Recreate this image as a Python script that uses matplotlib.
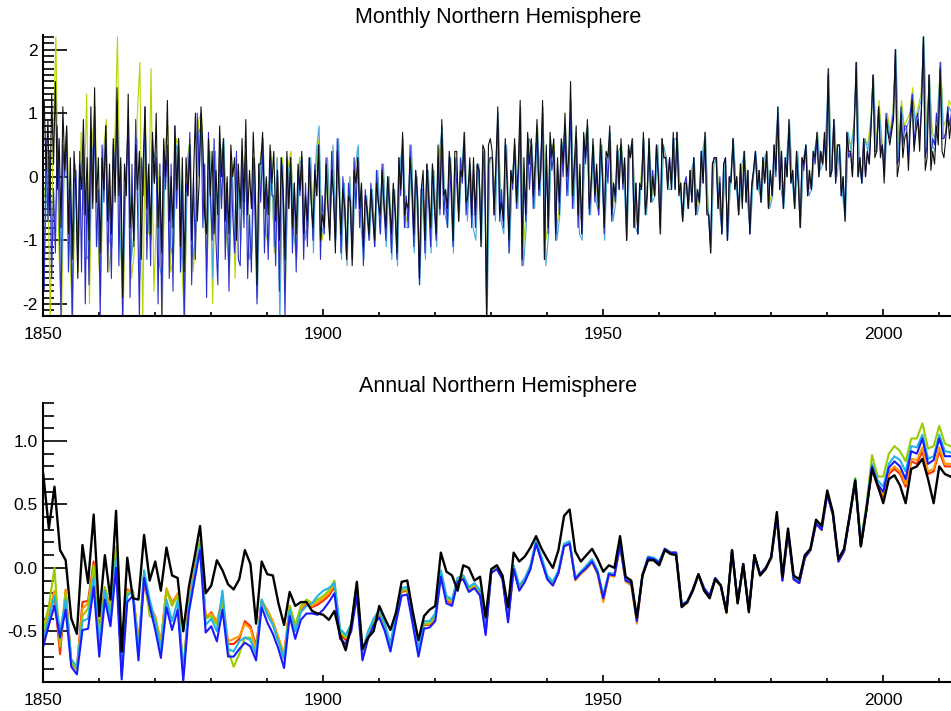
import numpy as np
import matplotlib
matplotlib.use("Agg")
from matplotlib import pyplot as plt
from matplotlib.ticker import MultipleLocator, FormatStrFormatter

plt.rcParams['font.family'] = ['Liberation Sans', 'DejaVu Sans']
plt.rcParams['axes.unicode_minus'] = False

START_YEAR = 1850

monthly_black = [  # 3 values per year
    1.2, 0.1, 0.9, -0.6, 1.3, 0.2, 1.5, -0.2, 0.6, -0.8, 1.1, 0.1, 0.8, -0.9, 0.3, -1.3, 0.4, -0.3, -1.6, 0.2, -0.2, 0.9, -0.6, 0.3, -1.0, 1.1, -0.5, 1.4, -0.4, 0.3,
    -1.2, 0.3, -0.2, 0.8, -0.7, 0.2, -0.9, 0.6, -0.4, 1.4, -0.3, 0.3, -1.9, 0.2, -0.3, 1.3, -0.8, -0.3, -1.0, 0.5, -0.2, 0.4, -1.3, 0.2, 1.1, -0.5, 0.2, -0.9, 0.7, -0.1,
    1.0, -0.8, 0.0, -1.2, 0.6, 0.0, 1.2, -0.7, 0.0, -0.8, 0.8, -0.2, 0.6, -1.1, 0.3, -1.5, 0.3, -0.3, 0.5, -1.0, 0.0, 1.0, -0.7, -0.1, 1.1, 0.5, -0.6, -0.9, 0.6, -0.3,
    0.4, -0.9, 0.1, -0.6, 0.8, 0.0, 0.6, -0.7, 0.0, -0.9, 0.5, 0.0, 0.3, -1.0, 0.2, -0.5, 0.6, -0.4, 0.9, -0.6, 0.1, -0.5, 0.7, -0.1, -1.7, 0.2, 0.2, 0.7, -0.5, 0.0,
    -0.6, 0.5, -0.1, 0.4, -0.7, 0.1, -1.0, 0.3, -0.2, -1.3, 0.4, -0.5, 0.3, -0.8, -0.1, -0.9, 0.2, -0.2, 0.4, -0.9, -0.3, -0.7, 0.3, -0.4, -0.8, 0.1, -0.3, 0.5, -1.0, -0.6,
    -0.8, 0.2, -0.5, -1.0, 0.1, -0.3, -1.2, 0.4, -0.2, -0.9, -0.2, -0.5, -1.3, -0.3, -0.4, -1.4, 0.1, -0.1, 0.3, -0.5, -0.1, -1.1, -0.3, -0.5, -0.9, -0.2, -0.6, -1.0, -0.1, -0.4,
    -0.6, 0.1, -0.4, -0.8, 0.0, -0.4, -0.9, -0.1, -0.5, -1.2, 0.3, -0.2, 0.7, -0.6, -0.4, -0.5, 0.3, -0.1, -0.9, 0.1, -0.3, -1.6, -0.2, 0.1, -1.0, 0.2, -0.3, -0.8, 0.2, -0.4,
    -0.9, 0.5, -0.5, 0.9, -0.3, -0.2, -0.5, 0.4, 0.0, -1.0, 0.4, 0.4, -0.7, 0.1, 0.0, 0.7, -0.4, -0.3, 0.3, -0.6, 0.3, -0.6, 0.2, 0.1, -1.1, 0.5, 0.4, -2.3, 0.5, 0.6,
    0.4, -0.6, 0.2, 1.1, -0.6, -0.4, -0.7, 0.6, -0.1, -1.0, 0.1, -0.1, 0.6, -0.4, 0.2, 1.2, -1.3, 0.3, -0.6, 0.7, 0.2, 0.6, -0.3, 0.2, 0.9, -0.2, 0.1, 1.2, -1.3, 0.5,
    -0.8, 0.7, 0.3, 0.6, -0.9, 0.3, -0.4, 0.6, 0.2, 1.0, 0.0, 0.3, 1.5, -0.3, 0.2, 0.8, -0.6, 0.2, -0.9, 0.7, 0.3, 0.9, -0.5, -0.1, 0.6, -0.3, 0.2, -0.5, 0.6, 0.1,
    -0.8, 0.4, 0.3, 0.8, -0.6, -0.1, -0.3, 0.5, -0.2, 0.6, -0.1, 0.3, -1.0, 0.5, 0.3, 0.6, -0.8, -0.1, -0.9, -0.1, -0.2, 0.7, -0.6, -0.3, 0.6, -0.4, 0.0, -0.3, 0.5, 0.0,
    -0.9, 0.6, 0.3, 0.3, -0.2, 0.3, -0.2, 0.7, -0.2, 0.7, -0.3, -0.1, -0.7, -0.1, -0.1, -0.5, 0.1, -0.4, 0.3, -0.6, -0.2, -0.4, 0.4, -0.1, 0.7, -0.6, -0.6, -1.2, 0.2, 0.3,
    0.3, -0.5, -0.1, -0.9, 0.2, 0.3, -1.0, 0.0, -0.1, 0.6, -0.2, 0.0, -0.6, 0.2, -0.5, 0.4, -0.4, 0.1, -0.9, -0.2, 0.1, 0.4, -0.2, 0.1, -0.4, 0.3, -0.1, 0.4, -0.5, 0.1,
    -0.3, 0.5, 0.1, 1.1, -0.2, 0.4, -0.5, 0.3, 0.0, 0.9, -0.1, 0.1, -0.5, 0.4, -0.1, -0.8, 0.3, 0.2, 0.5, -0.3, 0.1, -0.2, 0.4, 0.3, 0.7, 0.0, 0.4, 0.2, 0.7, 0.1,
    1.7, 0.0, 0.1, 0.9, -0.1, 0.5, 0.5, -0.3, 0.0, -0.7, 0.7, 0.4, 0.4, 0.0, 0.8, 1.8, 0.0, 0.3, -0.1, 0.6, 0.0, 0.4, 0.2, 0.8, 1.6, 0.3, 0.4, 1.1, 0.3, 0.5,
    -0.1, 0.9, 0.7, 0.5, 0.7, 0.9, 2.0, 0.0, 0.2, 1.0, 0.3, 0.6, 0.7, 0.1, 0.8, 1.2, 0.4, 0.7, 0.9, 0.4, 1.1, 2.2, 0.1, 0.3, 1.6, 0.1, 0.4, 0.2, 0.8, 0.5,
    1.7, 0.4, 0.3, 0.6, 1.0, 0.6, 0.9, 0.5, 0.8,
]

monthly_blue = [  # 3 values per year
    -1.8, 0.6, -0.7, 0.4, -1.6, -0.2, -1.2, 0.8, -0.5, -2.2, 0.5, 0.0, 0.7, -1.5, -0.2, -2.3, -0.1, 0.1, -1.4, 0.4, -1.5, 0.6, -2.0, -0.1, -1.7, 0.7, -0.4, 0.9, -1.1, -0.2,
    -2.2, 0.5, -0.4, 0.8, -1.5, -0.1, -1.6, 0.5, -0.3, 1.2, -1.4, 0.2, -2.3, -0.4, 0.1, 0.9, -1.9, 0.2, -1.1, 0.9, -0.5, -2.2, 0.3, -0.3, 1.1, -1.3, 0.0, -1.4, 0.6, -0.1,
    0.3, -2.0, 0.2, -2.3, 0.4, -0.2, 0.5, -1.6, 0.2, -1.8, 0.8, -0.5, 0.6, -1.5, -0.1, -2.3, -0.1, -0.3, 0.7, -1.7, 0.0, -1.3, 1.0, 0.0, 1.0, -0.8, 0.2, -1.9, 0.7, -0.3,
    -1.0, 0.6, -1.0, -1.7, 0.5, -0.5, 0.4, -1.3, -0.1, -1.8, 0.3, -0.6, -1.2, 0.4, -1.3, -1.4, 0.3, -0.8, 0.4, -1.6, -0.6, -1.5, 0.3, -0.7, -2.0, 0.2, -0.4, 0.5, -1.2, -0.2,
    -1.3, 0.3, -0.3, -0.3, -1.4, 0.1, -1.8, 0.3, -0.4, -2.2, 0.3, -0.5, 0.2, -1.2, -0.1, -1.5, 0.1, -0.3, 0.2, -1.3, -0.1, -1.1, 0.3, -0.3, -1.0, 0.2, -0.3, 0.5, -1.3, -0.3,
    -0.9, 0.3, -0.4, -0.9, 0.4, -0.3, -1.0, 0.6, -0.2, -1.2, 0.0, -0.5, -1.3, -0.1, -0.4, -1.3, 0.3, -0.5, 0.3, -0.8, -0.2, -1.4, -0.2, -0.6, -1.0, -0.1, -0.6, -1.1, 0.1, -0.4,
    -0.9, 0.2, -0.5, -1.0, 0.0, -0.5, -1.2, -0.2, -0.6, -1.3, 0.3, -0.3, 0.4, -0.8, -0.3, -0.8, 0.5, -0.3, -1.1, 0.1, -0.4, -1.7, -0.2, -0.2, -1.2, 0.2, -0.4, -1.1, 0.2, -0.5,
    -1.0, 0.3, -0.6, 0.6, -0.6, -0.2, -0.8, 0.3, -0.3, -1.1, 0.3, -0.1, -0.6, 0.3, -0.1, 0.5, -0.6, -0.2, 0.1, -0.8, 0.1, -0.8, 0.2, 0.1, -1.0, 0.4, -0.1, -2.1, 0.2, 0.3,
    0.3, -0.6, 0.2, 0.9, -0.7, -0.2, -0.8, 0.5, 0.0, -1.2, 0.1, -0.2, 0.5, -0.5, 0.0, 0.9, -1.4, 0.0, -0.7, 0.6, -0.2, 0.4, -0.5, 0.1, 0.7, -0.3, 0.2, 1.0, -1.3, 0.4,
    -0.9, 0.5, 0.1, 0.4, -1.0, 0.2, -0.6, 0.5, 0.0, 0.7, -0.3, 0.1, 1.0, -0.5, 0.1, 0.5, -0.8, 0.0, -0.9, 0.6, 0.2, 0.7, -0.6, -0.1, 0.5, -0.4, 0.1, -0.6, 0.5, 0.0,
    -0.9, 0.3, -0.1, 0.6, -0.7, -0.1, -0.4, 0.4, -0.2, 0.5, -0.2, 0.2, -1.0, 0.4, 0.3, 0.5, -0.8, -0.1, -0.9, -0.2, -0.2, 0.6, -0.5, -0.3, 0.6, -0.4, 0.1, -0.3, 0.5, 0.0,
    -0.8, 0.6, 0.3, 0.3, -0.1, 0.3, -0.1, 0.6, -0.2, 0.7, -0.2, -0.1, -0.7, -0.1, 0.0, -0.5, 0.1, -0.4, 0.3, -0.6, -0.2, -0.4, 0.4, -0.1, 0.6, -0.5, -0.6, -1.1, 0.2, 0.3,
    0.3, -0.5, 0.0, -0.9, 0.2, 0.3, -1.0, 0.0, 0.0, 0.6, -0.2, 0.0, -0.6, 0.2, -0.4, 0.4, -0.4, 0.1, -0.9, -0.1, 0.1, 0.4, -0.2, 0.1, -0.4, 0.3, -0.1, 0.4, -0.5, 0.1,
    -0.3, 0.5, 0.0, 1.0, -0.2, 0.4, -0.5, 0.3, 0.0, 0.8, -0.1, 0.1, -0.5, 0.3, -0.1, -0.8, 0.3, 0.1, 0.5, -0.3, 0.0, -0.2, 0.4, 0.2, 0.6, 0.0, 0.4, 0.2, 0.6, 0.1,
    1.6, 0.0, 0.1, 0.9, -0.1, 0.5, 0.5, -0.3, 0.0, -0.6, 0.7, 0.3, 0.4, 0.0, 0.8, 1.8, 0.0, 0.3, -0.1, 0.6, 0.0, 0.4, 0.2, 0.8, 1.6, 0.4, 0.4, 1.1, 0.4, 0.5,
    0.1, 1.0, 0.7, 0.6, 0.8, 1.0, 2.0, 0.2, 0.3, 1.1, 0.5, 0.8, 0.8, 0.3, 1.0, 1.3, 0.5, 0.9, 1.0, 0.6, 1.1, 2.2, 0.3, 0.5, 1.6, 0.3, 0.6, 0.5, 1.0, 0.7,
    1.8, 0.6, 0.6, 0.7, 1.1, 0.8, 1.0, 0.7, 0.9,
]

monthly_green = [  # 2 values per year
    -0.3, 0.4, -2.3, 0.5, 2.2, -1.0, -2.3, 0.3, 0.8, -1.2, -2.3, 0.2, -1.5, 0.7, -0.6, 1.3, -2.0, 0.6, 1.1, -1.0,
    -1.9, 0.4, 0.9, -1.5, -1.0, 0.5, 2.2, -0.8, -2.3, 0.1, 0.8, -1.6, -1.2, 0.9, 1.8, -2.3, 0.9, -0.9, 1.7, -1.8,
    -0.6, 0.2, -2.3, 0.5, 0.8, -1.5, -1.3, 0.6, 0.5, -1.4, -2.3, 0.3, 0.6, -1.5, -1.0, 0.9, 1.0, -0.4, -1.5, 0.4,
    -2.0, 0.3, -1.1, 0.4, 0.5, -1.0, -1.5, 0.2, -1.6, 0.1, -1.0, 0.2, 0.4, -1.3, -1.2, 0.3, -1.7, 0.3, 0.6, -0.9,
    -1.1, 0.4, -1.2, 0.3, -1.5, 0.3, -1.8, 0.2, 0.4, -0.9, -1.2, 0.3, 0.3, -0.9, -0.8, 0.3, -0.9, 0.3, 0.6, -1.0,
    -0.8, 0.2, -0.7, 0.4, -0.8, 0.5, -1.1, -0.1, -1.2, 0.0, -1.1, 0.2, 0.4, -0.6, -1.2, -0.3, -0.9, -0.2, -0.9, 0.0,
    -0.7, 0.1, -0.9, 0.0, -1.1, -0.2, -1.1, 0.2, 0.5, -0.7, -0.6, 0.4, -1.0, 0.0, -1.5, -0.1, -1.0, 0.1, -0.9, 0.1,
    -0.9, 0.2, 0.7, -0.5, -0.6, 0.3, -0.9, 0.3, -0.5, 0.2, 0.5, -0.5, 0.2, -0.6, -0.6, 0.2, -0.8, 0.4, -1.6, 0.3,
    0.3, -0.4, 0.9, -0.5, -0.6, 0.4, -1.0, 0.0, 0.5, -0.3, 1.0, -1.1, -0.5, 0.6, 0.5, -0.2, 0.8, -0.1, 1.0, -1.0,
    -0.7, 0.5, 0.5, -0.8, -0.4, 0.5, 0.8, 0.0, 1.1, -0.3, 0.6, -0.6, -0.7, 0.6, 0.8, -0.4, 0.5, -0.2, -0.4, 0.5,
    -0.7, 0.3, 0.6, -0.5, -0.2, 0.4, 0.5, 0.0, -0.8, 0.4, 0.5, -0.6, -0.8, 0.0, 0.6, -0.5, 0.5, -0.3, -0.2, 0.4,
    -0.7, 0.5, 0.3, 0.0, -0.1, 0.6, 0.6, -0.2, -0.6, 0.0, -0.4, 0.0, 0.2, -0.5, -0.3, 0.3, 0.6, -0.5, -1.0, 0.2,
    0.3, -0.4, -0.8, 0.2, -0.9, 0.0, 0.5, -0.1, -0.5, 0.1, 0.3, -0.3, -0.8, 0.0, 0.3, -0.1, -0.3, 0.2, 0.3, -0.4,
    -0.2, 0.4, 1.0, 0.0, -0.4, 0.2, 0.8, 0.0, -0.4, 0.3, -0.7, 0.2, 0.4, -0.2, -0.1, 0.4, 0.7, 0.2, 0.3, 0.6,
    1.6, 0.1, 0.9, 0.2, 0.4, -0.2, -0.5, 0.6, 0.5, 0.8, 1.7, 0.2, 0.0, 0.6, 0.5, 0.9, 1.6, 0.5, 1.2, 0.6,
    0.2, 1.0, 0.7, 1.1, 2.0, 0.5, 1.2, 0.8, 0.9, 1.0, 1.4, 0.9, 1.1, 1.3, 2.2, 0.6, 1.6, 0.7, 0.6, 1.1,
    1.8, 0.8, 0.9, 1.2, 1.1, 1.0,
]

monthly_cyan = [  # 2 values per year
    -1.2, 0.3, -0.3, -1.0, -0.5, 0.4, -1.5, 0.2, 0.4, -1.0, -1.6, 0.0, -1.2, 0.2, 0.3, -1.3, -1.2, 0.4, 0.6, -0.8,
    -1.5, 0.2, 0.5, -1.0, -1.1, 0.3, 0.8, -1.0, -1.8, 0.0, 0.6, -1.3, -0.8, 0.6, -1.6, 0.1, 0.7, -0.8, -1.0, 0.4,
    0.2, -1.4, -1.6, 0.2, 0.3, -1.1, -1.3, 0.5, 0.4, -1.1, -1.8, 0.0, 0.5, -1.3, -0.9, 0.7, 0.8, -0.5, -1.4, 0.4,
    -1.6, 0.4, -1.3, 0.3, 0.6, -0.8, -1.4, 0.1, -1.2, -0.1, -1.1, 0.1, 0.3, -1.3, -1.1, 0.2, -1.9, 0.2, 0.6, -0.9,
    -1.0, 0.3, -1.1, 0.3, -2.3, 0.2, -1.6, 0.1, 0.3, -0.9, -1.3, 0.2, 0.3, -1.0, -0.8, 0.3, -1.2, 0.4, 0.8, -0.9,
    -0.7, 0.3, -0.6, 0.5, -1.0, 0.6, -1.3, -0.1, -1.4, 0.0, -1.3, 0.2, 0.5, -0.8, -1.3, -0.3, -1.0, -0.2, -1.1, 0.1,
    -0.9, 0.2, -1.1, 0.0, -1.3, -0.2, -1.4, 0.2, 0.6, -0.8, -0.8, 0.5, -1.2, 0.0, -1.7, -0.1, -1.3, 0.1, -1.2, 0.1,
    -1.1, 0.4, 0.8, -0.6, -0.8, 0.3, -1.2, 0.3, -0.7, 0.2, 0.7, -0.7, 0.2, -0.8, -1.0, 0.2, -1.1, 0.4, -2.3, 0.3,
    0.3, -0.7, 1.0, -0.7, -0.9, 0.5, -1.2, 0.0, 0.5, -0.5, 1.1, -1.4, -0.8, 0.6, 0.5, -0.5, 0.8, -0.3, 1.1, -1.4,
    -0.9, 0.5, 0.4, -1.0, -0.6, 0.5, 0.8, -0.3, 1.2, -0.5, 0.6, -0.9, -1.0, 0.6, 0.8, -0.6, 0.5, -0.4, -0.6, 0.5,
    -1.0, 0.3, 0.7, -0.7, -0.4, 0.4, 0.5, -0.2, -1.0, 0.4, 0.6, -0.8, -0.9, -0.1, 0.6, -0.6, 0.5, -0.4, -0.3, 0.5,
    -0.9, 0.5, 0.3, -0.2, -0.2, 0.6, 0.6, -0.3, -0.7, -0.1, -0.5, 0.1, 0.3, -0.6, -0.4, 0.4, 0.7, -0.6, -1.2, 0.2,
    0.3, -0.5, -0.9, 0.2, -1.0, 0.0, 0.6, -0.2, -0.6, 0.2, 0.4, -0.4, -0.9, -0.1, 0.4, -0.2, -0.4, 0.3, 0.4, -0.5,
    -0.3, 0.5, 1.1, -0.2, -0.5, 0.3, 0.9, -0.1, -0.5, 0.4, -0.8, 0.3, 0.5, -0.3, -0.2, 0.4, 0.7, 0.1, 0.2, 0.7,
    1.7, 0.0, 0.9, 0.0, 0.5, -0.3, -0.7, 0.7, 0.4, 0.8, 1.8, 0.1, -0.1, 0.6, 0.4, 0.8, 1.6, 0.4, 1.1, 0.5,
    0.0, 0.9, 0.6, 1.0, 2.0, 0.3, 1.1, 0.7, 0.8, 0.9, 1.3, 0.8, 1.0, 1.2, 2.2, 0.5, 1.6, 0.5, 0.4, 1.0,
    1.8, 0.6, 0.7, 1.1, 1.0, 0.9,
]

# --- annual panel, one value per year 1850-2012 ---
annual_black = [
    0.74, 0.31, 0.64, 0.14, 0.06, -0.40, -0.52, 0.18, -0.12, 0.42,
    -0.38, 0.10, -0.25, 0.45, -0.66, 0.08, -0.24, -0.25, 0.26, -0.10,
    0.05, -0.18, 0.16, -0.06, -0.08, -0.50, -0.15, 0.08, 0.33, -0.20,
    -0.14, 0.06, -0.02, -0.13, -0.17, -0.09, 0.14, 0.03, -0.44, 0.05,
    -0.05, -0.06, -0.28, -0.45, -0.19, -0.30, -0.27, -0.27, -0.34, -0.36,
    -0.37, -0.41, -0.34, -0.53, -0.65, -0.45, -0.11, -0.64, -0.55, -0.50,
    -0.30, -0.40, -0.49, -0.35, -0.11, -0.10, -0.35, -0.57, -0.38, -0.33,
    -0.30, 0.12, -0.03, -0.06, -0.18, 0.02, 0.00, -0.10, -0.07, -0.39,
    -0.01, 0.02, -0.06, -0.31, 0.12, 0.05, 0.09, 0.16, 0.25, 0.15,
    0.07, 0.00, 0.14, 0.41, 0.46, 0.13, 0.05, 0.10, 0.15, 0.07,
    -0.03, 0.02, 0.00, 0.25, -0.07, -0.10, -0.39, -0.06, 0.06, 0.06,
    0.02, 0.14, 0.11, 0.10, -0.31, -0.27, -0.18, -0.05, -0.18, -0.24,
    -0.09, -0.14, -0.35, 0.14, -0.28, 0.03, -0.35, 0.10, -0.06, -0.01,
    0.09, 0.44, -0.07, 0.31, -0.06, -0.09, 0.10, 0.15, 0.38, 0.33,
    0.61, 0.44, 0.07, 0.15, 0.41, 0.69, 0.17, 0.46, 0.78, 0.65,
    0.51, 0.70, 0.73, 0.65, 0.51, 0.78, 0.80, 0.86, 0.70, 0.51,
    0.80, 0.74, 0.72,
]

annual_blue = [
    -0.62, -0.45, -0.30, -0.55, -0.33, -0.78, -0.84, -0.49, -0.48, -0.15,
    -0.70, -0.25, -0.46, 0.00, -0.88, -0.27, -0.22, -0.73, -0.08, -0.30,
    -0.49, -0.71, -0.31, -0.49, -0.33, -0.89, -0.35, -0.10, 0.14, -0.51,
    -0.46, -0.58, -0.33, -0.70, -0.70, -0.64, -0.59, -0.62, -0.73, -0.31,
    -0.43, -0.52, -0.64, -0.79, -0.38, -0.56, -0.41, -0.36, -0.36, -0.37,
    -0.33, -0.27, -0.20, -0.56, -0.60, -0.50, -0.22, -0.73, -0.56, -0.45,
    -0.39, -0.50, -0.66, -0.43, -0.22, -0.21, -0.45, -0.70, -0.48, -0.47,
    -0.42, -0.07, -0.28, -0.30, -0.11, -0.09, -0.19, -0.16, -0.22, -0.53,
    -0.04, -0.01, -0.09, -0.43, -0.01, -0.18, -0.11, -0.01, 0.19, 0.05,
    -0.09, -0.14, -0.04, 0.17, 0.19, -0.09, -0.04, 0.00, 0.05, -0.04,
    -0.24, -0.05, -0.06, 0.18, -0.10, -0.12, -0.42, -0.06, 0.08, 0.07,
    0.04, 0.15, 0.12, 0.12, -0.29, -0.27, -0.17, -0.05, -0.16, -0.22,
    -0.08, -0.14, -0.35, 0.14, -0.27, 0.03, -0.33, 0.10, -0.05, 0.00,
    0.08, 0.40, -0.10, 0.28, -0.09, -0.12, 0.08, 0.14, 0.35, 0.30,
    0.58, 0.42, 0.05, 0.13, 0.40, 0.68, 0.17, 0.46, 0.80, 0.66,
    0.60, 0.79, 0.84, 0.80, 0.70, 0.92, 0.90, 1.02, 0.82, 0.85,
    1.02, 0.88, 0.88,
]

annual_cyan = [
    -0.55, -0.40, -0.22, -0.50, -0.25, -0.72, -0.78, -0.42, -0.40, -0.08,
    -0.62, -0.18, -0.40, 0.08, -0.82, -0.22, -0.18, -0.66, -0.02, -0.25,
    -0.42, -0.64, -0.25, -0.42, -0.26, -0.82, -0.30, -0.05, 0.18, -0.45,
    -0.40, -0.50, -0.18, -0.64, -0.66, -0.58, -0.55, -0.57, -0.68, -0.25,
    -0.37, -0.45, -0.58, -0.72, -0.33, -0.50, -0.35, -0.30, -0.28, -0.22,
    -0.18, -0.16, -0.12, -0.48, -0.53, -0.44, -0.15, -0.66, -0.50, -0.40,
    -0.33, -0.44, -0.60, -0.37, -0.16, -0.15, -0.39, -0.64, -0.42, -0.42,
    -0.36, -0.02, -0.22, -0.25, -0.08, -0.06, -0.15, -0.12, -0.18, -0.48,
    -0.01, 0.02, -0.06, -0.38, 0.02, -0.14, -0.08, 0.02, 0.22, 0.08,
    -0.06, -0.11, -0.02, 0.19, 0.21, -0.08, -0.03, 0.02, 0.07, -0.02,
    -0.22, -0.04, -0.05, 0.19, -0.09, -0.11, -0.40, -0.05, 0.09, 0.08,
    0.05, 0.15, 0.12, 0.12, -0.29, -0.26, -0.17, -0.05, -0.16, -0.22,
    -0.08, -0.14, -0.34, 0.14, -0.27, 0.03, -0.33, 0.10, -0.05, 0.00,
    0.08, 0.41, -0.09, 0.29, -0.08, -0.11, 0.09, 0.15, 0.36, 0.31,
    0.59, 0.43, 0.06, 0.14, 0.41, 0.70, 0.19, 0.48, 0.82, 0.69,
    0.64, 0.82, 0.88, 0.85, 0.76, 0.96, 0.95, 1.05, 0.86, 0.88,
    1.05, 0.92, 0.91,
]

annual_green = [
    -0.48, -0.30, 0.00, -0.62, -0.20, -0.75, -0.80, -0.38, -0.32, 0.02,
    -0.55, -0.15, -0.35, 0.17, -0.85, -0.20, -0.20, -0.62, -0.05, -0.38,
    -0.40, -0.60, -0.18, -0.30, -0.22, -0.85, -0.30, -0.05, 0.22, -0.40,
    -0.38, -0.45, -0.25, -0.65, -0.78, -0.68, -0.55, -0.55, -0.68, -0.25,
    -0.35, -0.45, -0.58, -0.72, -0.30, -0.45, -0.30, -0.25, -0.28, -0.25,
    -0.22, -0.18, -0.10, -0.50, -0.55, -0.45, -0.12, -0.68, -0.52, -0.42,
    -0.35, -0.46, -0.62, -0.38, -0.18, -0.17, -0.40, -0.65, -0.44, -0.44,
    -0.38, -0.03, -0.24, -0.26, -0.08, -0.06, -0.16, -0.13, -0.19, -0.50,
    -0.02, 0.01, -0.07, -0.40, 0.01, -0.15, -0.09, 0.01, 0.21, 0.07,
    -0.07, -0.12, -0.03, 0.18, 0.20, -0.08, -0.03, 0.01, 0.06, -0.03,
    -0.23, -0.04, -0.05, 0.19, -0.09, -0.11, -0.41, -0.05, 0.08, 0.07,
    0.05, 0.15, 0.12, 0.12, -0.29, -0.27, -0.17, -0.05, -0.16, -0.22,
    -0.08, -0.14, -0.35, 0.14, -0.27, 0.03, -0.33, 0.10, -0.05, 0.00,
    0.08, 0.41, -0.09, 0.29, -0.08, -0.11, 0.09, 0.15, 0.36, 0.31,
    0.60, 0.44, 0.06, 0.14, 0.42, 0.71, 0.20, 0.50, 0.89, 0.72,
    0.72, 0.90, 0.96, 0.92, 0.84, 1.02, 1.02, 1.14, 0.94, 0.96,
    1.12, 0.98, 0.96,
]

annual_orange = [
    -0.55, -0.35, -0.18, -0.60, -0.17, -0.74, -0.78, -0.32, -0.28, -0.02,
    -0.52, -0.18, -0.30, 0.12, -0.80, -0.18, -0.18, -0.58, -0.10, -0.30,
    -0.38, -0.58, -0.16, -0.28, -0.20, -0.82, -0.26, -0.02, 0.20, -0.38,
    -0.36, -0.42, -0.24, -0.58, -0.56, -0.54, -0.44, -0.48, -0.64, -0.26,
    -0.33, -0.42, -0.55, -0.68, -0.30, -0.46, -0.32, -0.27, -0.30, -0.27,
    -0.24, -0.20, -0.13, -0.50, -0.55, -0.45, -0.15, -0.67, -0.51, -0.42,
    -0.35, -0.46, -0.61, -0.38, -0.18, -0.17, -0.40, -0.65, -0.44, -0.44,
    -0.38, -0.04, -0.25, -0.27, -0.09, -0.07, -0.17, -0.14, -0.20, -0.50,
    -0.03, 0.00, -0.08, -0.40, 0.00, -0.16, -0.10, 0.00, 0.20, 0.06,
    -0.08, -0.13, -0.04, 0.17, 0.19, -0.10, -0.05, -0.01, 0.04, -0.05,
    -0.27, -0.06, -0.07, 0.17, -0.11, -0.14, -0.44, -0.07, 0.07, 0.06,
    0.04, 0.14, 0.11, 0.11, -0.30, -0.28, -0.18, -0.06, -0.17, -0.23,
    -0.09, -0.15, -0.36, 0.13, -0.28, 0.02, -0.34, 0.09, -0.06, -0.01,
    0.07, 0.40, -0.10, 0.28, -0.09, -0.12, 0.08, 0.14, 0.35, 0.30,
    0.58, 0.42, 0.05, 0.13, 0.40, 0.68, 0.17, 0.46, 0.79, 0.65,
    0.58, 0.76, 0.80, 0.76, 0.66, 0.86, 0.85, 0.95, 0.76, 0.78,
    0.95, 0.82, 0.82,
]

annual_red = [
    -0.60, -0.38, -0.22, -0.68, -0.18, -0.76, -0.80, -0.27, -0.26, 0.05,
    -0.50, -0.16, -0.32, 0.15, -0.82, -0.17, -0.20, -0.60, -0.12, -0.32,
    -0.40, -0.60, -0.17, -0.27, -0.21, -0.84, -0.27, -0.03, 0.22, -0.40,
    -0.35, -0.43, -0.26, -0.60, -0.60, -0.56, -0.42, -0.46, -0.62, -0.27,
    -0.34, -0.43, -0.56, -0.70, -0.31, -0.48, -0.34, -0.29, -0.31, -0.29,
    -0.26, -0.22, -0.15, -0.52, -0.57, -0.47, -0.17, -0.69, -0.53, -0.43,
    -0.36, -0.47, -0.62, -0.39, -0.19, -0.18, -0.41, -0.66, -0.45, -0.45,
    -0.39, -0.05, -0.26, -0.28, -0.10, -0.08, -0.18, -0.15, -0.21, -0.51,
    -0.03, 0.00, -0.08, -0.41, 0.00, -0.17, -0.10, 0.00, 0.20, 0.06,
    -0.08, -0.13, -0.04, 0.18, 0.20, -0.09, -0.04, 0.00, 0.05, -0.04,
    -0.25, -0.05, -0.06, 0.18, -0.10, -0.12, -0.42, -0.06, 0.08, 0.07,
    0.04, 0.15, 0.12, 0.12, -0.29, -0.27, -0.17, -0.05, -0.16, -0.22,
    -0.08, -0.14, -0.35, 0.14, -0.27, 0.03, -0.33, 0.10, -0.05, 0.00,
    0.08, 0.40, -0.10, 0.28, -0.09, -0.12, 0.08, 0.14, 0.35, 0.30,
    0.58, 0.42, 0.05, 0.13, 0.40, 0.68, 0.17, 0.46, 0.78, 0.64,
    0.56, 0.74, 0.78, 0.74, 0.64, 0.84, 0.82, 0.92, 0.74, 0.76,
    0.92, 0.80, 0.80,
]


def times(values, per_year):
    # mid-point of each sampling interval, in decimal years
    return START_YEAR + (np.arange(len(values)) + 0.5) / per_year


def idl_axes(ax, ylim, ymajor, yfmt):
    ax.set_xlim(1850, 2012.1)
    ax.set_ylim(*ylim)
    for side in ('top', 'right'):
        ax.spines[side].set_visible(False)
    for side in ('left', 'bottom'):
        ax.spines[side].set_linewidth(1.5)
    ax.xaxis.set_major_locator(MultipleLocator(50))
    ax.xaxis.set_minor_locator(MultipleLocator(10))
    ax.yaxis.set_major_locator(MultipleLocator(ymajor))
    ax.yaxis.set_minor_locator(MultipleLocator(0.1))
    ax.yaxis.set_major_formatter(FormatStrFormatter(yfmt))
    ax.tick_params(axis='y', which='major', direction='in', length=17, width=1.2,
                   labelsize=12.5, pad=4)
    ax.tick_params(axis='y', which='minor', direction='in', length=8, width=1.2)
    ax.tick_params(axis='x', which='major', direction='in', length=5, width=1.2,
                   labelsize=12.5, pad=8)
    ax.tick_params(axis='x', which='minor', direction='in', length=3, width=1.2)


fig = plt.figure(figsize=(9.51, 7.11), dpi=100)
ax1 = fig.add_axes([0.0455, 0.5556, 0.9545, 0.3952])
ax2 = fig.add_axes([0.0455, 0.0408, 0.9545, 0.3924])

# monthly
ax1.plot(times(monthly_green, 2), monthly_green, color='#b8d400', lw=0.8)
ax1.plot(times(monthly_cyan, 2), monthly_cyan, color='#4aa8dc', lw=0.8)
ax1.plot(times(monthly_blue, 3), monthly_blue, color='#2c2cc8', lw=0.8)
ax1.plot(times(monthly_black, 3), monthly_black, color='#111111', lw=0.8)
idl_axes(ax1, (-2.19, 2.23), 1, '%d')

# annual
years = np.arange(START_YEAR, START_YEAR + len(annual_black))
ax2.plot(years, annual_red, color='#ff2a00', lw=1.5)
ax2.plot(years, annual_orange, color='#ff9900', lw=1.5)
ax2.plot(years, annual_green, color='#99cc00', lw=1.5)
ax2.plot(years, annual_cyan, color='#22b4e8', lw=1.5)
ax2.plot(years, annual_blue, color='#1a1aff', lw=1.5)
ax2.plot(years, annual_black, color='black', lw=1.7)
idl_axes(ax2, (-0.9, 1.3), 0.5, '%.1f')

fig.text(0.5236, 0.9747, 'Monthly Northern Hemisphere', ha='center', va='center',
         fontsize=15.5)
fig.text(0.5236, 0.457, 'Annual Northern Hemisphere', ha='center', va='center',
         fontsize=15.5)

fig.savefig('out.png', dpi=100)
